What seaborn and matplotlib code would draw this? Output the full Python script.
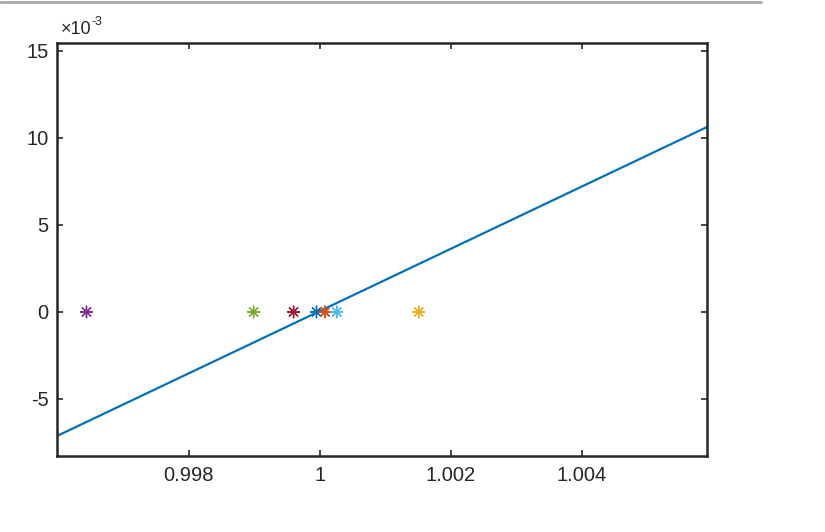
import seaborn as sns
import matplotlib.pyplot as plt
import matplotlib.ticker as mticker
from matplotlib.lines import Line2D
import pandas as pd

# fitted line (two end points across the visible x range)
line_x = [0.99599, 1.00591]
line_y = [-7.13e-3, 10.63e-3]

# roots / points marked on the x axis
pt_x = [0.99995, 1.00008, 1.00151, 0.99644, 0.99899, 1.00026, 0.99960]
pt_y = [0, 0, 0, 0, 0, 0, 0]
pt_id = ["p1", "p2", "p3", "p4", "p5", "p6", "p7"]
colors = ["#0072BD", "#D95319", "#EDB120", "#7E2F8E", "#77AC30", "#4DBEEE", "#A2142F"]

x_ticks = [0.998, 1.0, 1.002, 1.004]
y_ticks = [-5e-3, 0, 5e-3, 10e-3, 15e-3]
y_scale = 1e-3

sns.set_style("ticks")
plt.rcParams["font.family"] = ["Liberation Sans", "DejaVu Sans"]
plt.rcParams["axes.unicode_minus"] = False

fig = plt.figure(figsize=(8.25, 5.32), dpi=100)
ax = fig.add_axes([0.0691, 0.1429, 0.857 - 0.0691, 0.9192 - 0.1429])

sns.lineplot(x=line_x, y=line_y, ax=ax, color="#0072BD", linewidth=1.6)

pts = pd.DataFrame({"x": pt_x, "y": pt_y, "id": pt_id})
sns.scatterplot(data=pts, x="x", y="y", hue="id", palette=colors, marker=(8, 2, 0),
                s=70, linewidth=1.0, ax=ax, legend=False, zorder=3)

ax.set_xlim(0.99599, 1.00591)
ax.set_ylim(-8.28e-3, 15.46e-3)
ax.set_xticks(x_ticks)
ax.set_yticks(y_ticks)
ax.xaxis.set_major_formatter(mticker.FuncFormatter(lambda v, p: f"{v:g}"))
ax.yaxis.set_major_formatter(mticker.FuncFormatter(lambda v, p: f"{round(v / y_scale):g}"))

# exponent label, matlab style
tc = "#262626"
fig.text(61 / 825, 1 - 34 / 532, "×10", fontsize=13, color=tc, ha="left", va="baseline")
fig.text(92 / 825, 1 - 25 / 532, "-3", fontsize=9, color=tc, ha="left", va="baseline")

ax.tick_params(direction="in", top=True, right=True, length=4, width=1.2,
               labelsize=14.5, colors=tc, labelcolor=tc)
ax.tick_params(axis="x", pad=7)
ax.tick_params(axis="y", pad=6)
for s in ax.spines.values():
    s.set_color(tc)
    s.set_linewidth(1.8)
ax.set_xlabel("")
ax.set_ylabel("")

# thin gray rule across the top of the image
fig.add_artist(Line2D([0, 0.923], [0.996, 0.996], transform=fig.transFigure,
                      color="#aaaaaa", linewidth=2))

fig.savefig("out.png", dpi=100)
